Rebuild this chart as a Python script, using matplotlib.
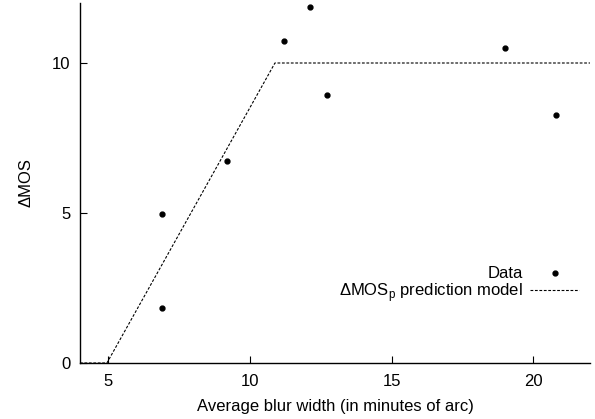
import matplotlib.pyplot as plt

plt.rcParams["font.family"] = ["Liberation Sans", "DejaVu Sans"]
plt.rcParams["mathtext.fontset"] = "custom"
plt.rcParams["mathtext.rm"] = "Liberation Sans"

# measured data points
blur_width = [6.9, 6.9, 9.2, 11.2, 12.1, 12.7, 19.0, 20.8]
delta_mos = [4.97, 1.83, 6.73, 10.73, 11.87, 8.93, 10.5, 8.27]

# prediction model (piecewise linear, capped at 10)
model_x = [4.0, 4.95, 10.88, 22.0]
model_y = [0.0, 0.0, 10.0, 10.0]

x_ticks = [5, 10, 15, 20]
y_ticks = [0, 5, 10]

fig = plt.figure(figsize=(5.95, 4.19), dpi=100)
ax = fig.add_axes([80 / 595, 1 - 363 / 419, 510 / 595, 360 / 419])

ax.plot(blur_width, delta_mos, linestyle="none", marker="o", markersize=3.5,
        color="black", label="Data")
ax.plot(model_x, model_y, color="black", linewidth=0.8, linestyle=(0, (2.5, 1.5)),
        label="ΔMOS$_\\mathregular{p}$ prediction model")

ax.set_xlim(4, 22)
ax.set_ylim(0, 12)
ax.set_xticks(x_ticks)
ax.set_yticks(y_ticks)
ax.tick_params(direction="in", length=5, width=0.8, labelsize=12)
ax.tick_params(axis="x", pad=8)
ax.tick_params(axis="y", pad=7)
for side in ["top", "right"]:
    ax.spines[side].set_visible(False)
for side in ["left", "bottom"]:
    ax.spines[side].set_linewidth(1.0)

ax.set_xlabel("Average blur width (in minutes of arc)", fontsize=12, labelpad=7)
ax.set_ylabel("ΔMOS", fontsize=12, labelpad=13)

ax.legend(loc="lower right", bbox_to_anchor=(0.978, 0.163), frameon=False,
          markerfirst=False, handlelength=2.9, handletextpad=0.45,
          labelspacing=0.0, fontsize=12, borderpad=0, borderaxespad=0)

fig.savefig("out.png", dpi=100)
